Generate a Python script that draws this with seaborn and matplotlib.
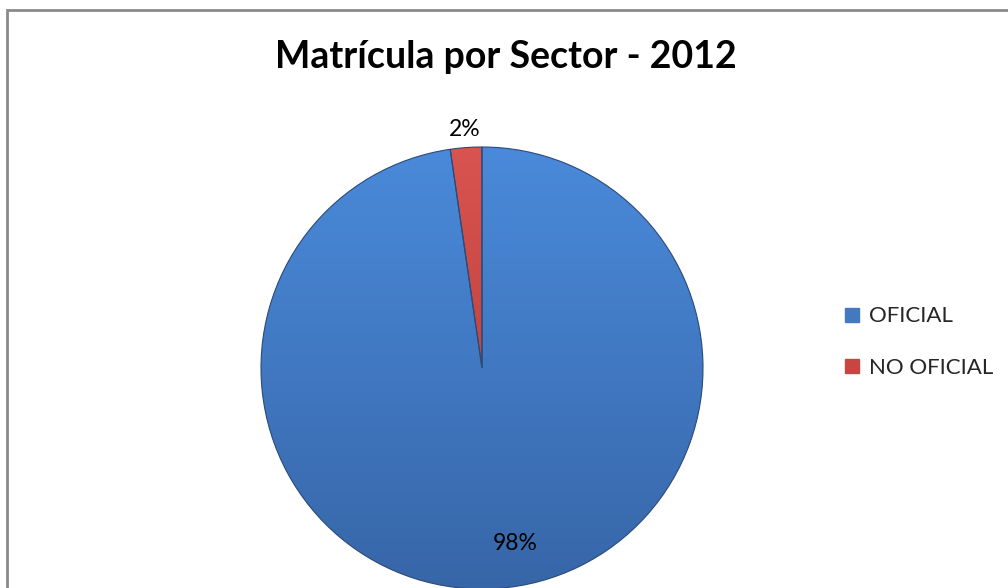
import numpy as np
import matplotlib
matplotlib.use("Agg")
import matplotlib.pyplot as plt
import matplotlib.colors as mcolors
from matplotlib.lines import Line2D
from matplotlib.patches import Rectangle
import seaborn as sns

# ---- data ----
categories = ["OFICIAL", "NO OFICIAL"]
shares = [97.7, 2.3]
title = "Matrícula por Sector - 2012"

sns.set_theme(style="white")
plt.rcParams['font.family'] = ['Lato', 'DejaVu Sans']

W, H = 1008, 588
fig = plt.figure(figsize=(W / 100, H / 100), dpi=100)
fig.patch.set_facecolor("white")

# chart border (outer frame)
fig.add_artist(Rectangle((7 / W, -0.05), 1.2, (H - 10) / H + 0.05,
                         transform=fig.transFigure, fill=False,
                         edgecolor="#8a8a8a", linewidth=2))

cx, cy, r = 482, 368, 221
ax = fig.add_axes([(cx - r) / W, (H - cy - r) / H, 2 * r / W, 2 * r / H])
ax.set_axis_off()

base_cols = ["#4279C0", "#C94542"]
wedges, texts, autotexts = ax.pie(
    shares, colors=base_cols, startangle=90, counterclock=False,
    radius=1, autopct="%1.0f%%", pctdistance=0.8,
    wedgeprops=dict(edgecolor="#2d4f80", linewidth=0.6),
    textprops=dict(fontsize=16.5, color="black"))
ax.set_xlim(-1, 1)
ax.set_ylim(-1, 1)

# gradient shading clipped to each wedge
grads = [("#4A8ADA", "#3766A8"), ("#D85450", "#B03532")]
for w, (top, bot) in zip(wedges, grads):
    c1 = np.array(mcolors.to_rgb(top))
    c2 = np.array(mcolors.to_rgb(bot))
    t = np.linspace(0, 1, 256)[:, None]
    img = (c1 * (1 - t) + c2 * t)[:, None, :]
    im = ax.imshow(img, extent=(-1, 1, -1, 1), origin="upper",
                   aspect="auto", zorder=2, interpolation="bilinear")
    im.set_clip_path(w)
ax.set_xlim(-1, 1)
ax.set_ylim(-1, 1)

# outline between wedges on top
for w in wedges:
    w.set_zorder(3)
    w.set_facecolor("none")
    w.set_edgecolor("#2a4a78")
    w.set_linewidth(0.8)

# label positions: small slice label outside, big slice label best-fit
for w, at in zip(wedges, autotexts):
    at.set_zorder(5)
    mid = (w.theta1 + w.theta2) / 2
    if (w.theta2 - w.theta1) < 30:
        a = np.deg2rad(mid)
        at.set_position((1.08 * np.cos(a), 1.08 * np.sin(a)))
        at.set_va("center")
    else:
        a = np.deg2rad(mid + 6.5)
        at.set_position((0.81 * np.cos(a), 0.81 * np.sin(a)))

fig.text(506 / W, 1 - 57 / H, title, ha="center", va="center",
         fontsize=27, fontweight="bold", color="black")

handles = [Line2D([0], [0], marker="s", linestyle="none", markersize=10,
                  markerfacecolor=c, markeredgecolor=c) for c in base_cols]
fig.legend(handles, categories, loc="center left",
           bbox_to_anchor=(843 / W, 1 - 342 / H), frameon=False,
           fontsize=16, handlelength=0.8, handletextpad=0.35,
           labelspacing=1.4, borderpad=0, borderaxespad=0)

fig.savefig("out.png", dpi=100, facecolor="white")
